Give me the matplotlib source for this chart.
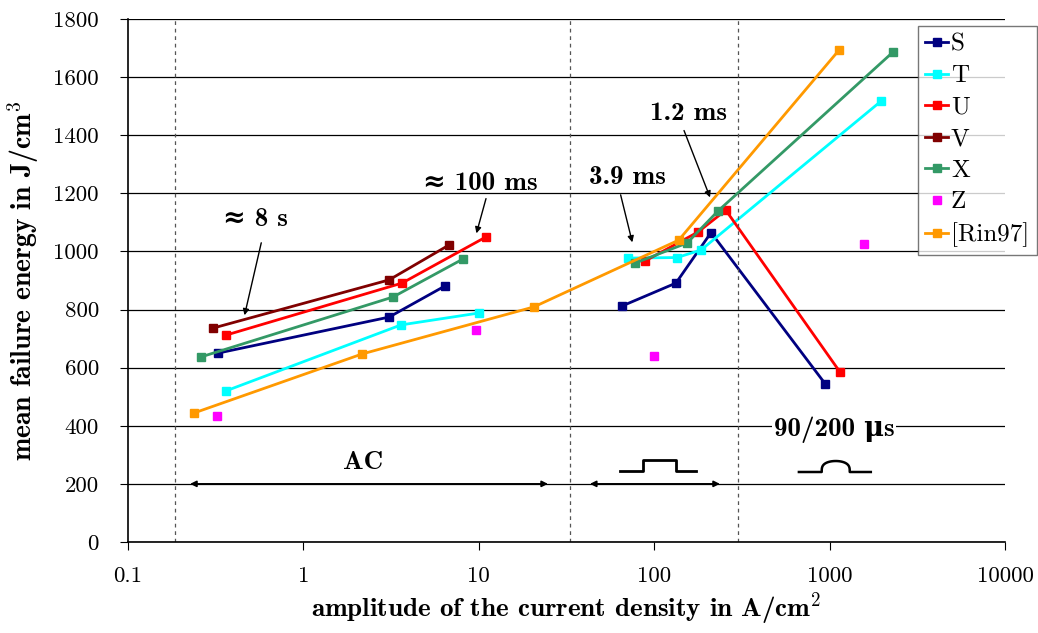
import numpy as np
import matplotlib
matplotlib.use("Agg")
import matplotlib.pyplot as plt

plt.rcParams['font.family'] = ['cmr10', 'DejaVu Serif']
plt.rcParams['mathtext.fontset'] = 'cm'
plt.rcParams['axes.unicode_minus'] = False

# AC tests (left group) and pulse tests (right group) per sample
S_ac_x = [0.326, 3.08, 6.41]
S_ac_y = [650, 774, 881]
S_p_x = [65.5, 133, 211, 942]
S_p_y = [812, 891, 1065, 545]

T_ac_x = [0.362, 3.6, 10.0]
T_ac_y = [520, 747, 788]
T_p_x = [71, 135, 185, 1963]
T_p_y = [977, 979, 1005, 1517]

U_ac_x = [0.362, 3.65, 11.0]
U_ac_y = [712, 891, 1050]
U_p_x = [88.7, 178, 256, 1146]
U_p_y = [967, 1067, 1142, 585]

V_ac_x = [0.305, 3.08, 6.76]
V_ac_y = [736, 902, 1022]

X_ac_x = [0.261, 3.24, 8.13]
X_ac_y = [637, 843, 974]
X_p_x = [77.8, 154, 231, 2297]
X_p_y = [960, 1029, 1139, 1686]

Z_x = [0.321, 9.64, 99.8, 1571]
Z_y = [434, 730, 640, 1025]

Rin_x = [0.238, 2.16, 20.6, 138, 1132]
Rin_y = [444, 647, 809, 1039, 1693]

regime_bounds = [0.185, 33.1, 301]

fig = plt.figure(figsize=(10.38, 6.33), dpi=100)
ax = fig.add_axes([0.1233, 0.1438, 0.8449, 0.8262])

kw = dict(lw=2, marker='s', ms=6)
ax.plot(S_ac_x, S_ac_y, color='#000080', label='S', **kw)
ax.plot(S_p_x, S_p_y, color='#000080', **kw)
ax.plot(T_ac_x, T_ac_y, color='#00FFFF', label='T', **kw)
ax.plot(T_p_x, T_p_y, color='#00FFFF', **kw)
ax.plot(U_ac_x, U_ac_y, color='#FF0000', label='U', **kw)
ax.plot(U_p_x, U_p_y, color='#FF0000', **kw)
ax.plot(V_ac_x, V_ac_y, color='#800000', label='V', **kw)
ax.plot(X_ac_x, X_ac_y, color='#339966', label='X', **kw)
ax.plot(X_p_x, X_p_y, color='#339966', **kw)
ax.plot(Z_x, Z_y, color='#FF00FF', lw=2, marker='s', ms=6, ls='none', label='Z')
ax.plot(Rin_x, Rin_y, color='#FF9900', label='[Rin97]', **kw)

for b in regime_bounds:
    ax.axvline(b, color='#555555', ls=(0, (3, 3)), lw=0.9)

ax.set_xscale('log')
ax.set_xlim(0.1, 10000)
ax.set_ylim(0, 1800)
ax.set_yticks(np.arange(0, 1801, 200))
ax.set_xticks([0.1, 1, 10, 100, 1000, 10000], ['0.1', '1', '10', '100', '1000', '10000'])
ax.minorticks_off()
ax.yaxis.grid(True, color='black', lw=0.9)
ax.set_axisbelow(True)
ax.spines['top'].set_visible(False)
ax.spines['right'].set_visible(False)
ax.spines['left'].set_linewidth(1.2)
ax.spines['bottom'].set_linewidth(1.2)
ax.tick_params(labelsize=16.5, length=6, direction='out')
ax.tick_params(axis='y', pad=15)
ax.tick_params(axis='x', pad=12)

bold = dict(family=['cmb10', 'DejaVu Serif'], fontweight='bold')
ax.set_xlabel('amplitude of the current density in A/cm$^{\\mathbf{2}}$', fontsize=19.5, labelpad=3, **bold)
ax.set_ylabel('mean failure energy in J/cm$^{\\mathbf{3}}$', fontsize=20, labelpad=9, **bold)

# annotations
fs = 19.5
arr = dict(arrowstyle='-|>', color='black', lw=1, mutation_scale=9)
ax.text(0.53, 1111, '≈ 8 s', fontsize=fs, ha='center', va='center', **bold)
ax.annotate('', xy=(0.458, 771), xytext=(0.58, 1039), arrowprops=arr)
ax.text(10.2, 1235, '≈ 100 ms', fontsize=fs, ha='center', va='center', **bold)
ax.annotate('', xy=(9.6, 1053), xytext=(11.1, 1191), arrowprops=arr)
ax.text(70, 1253, '3.9 ms', fontsize=fs, ha='center', va='center', **bold)
ax.annotate('', xy=(75.7, 1022), xytext=(63.8, 1204), arrowprops=arr)
ax.text(156, 1476, '1.2 ms', fontsize=fs, ha='center', va='center', **bold)
ax.annotate('', xy=(211, 1177), xytext=(146, 1425), arrowprops=arr)
ax.text(1059, 385, '90/200 \u03bcs', fontsize=fs, ha='center', va='center',
        bbox=dict(facecolor='white', edgecolor='none', pad=1), **bold)
ax.text(2.19, 272, 'AC', fontsize=fs, ha='center', va='center', **bold)

darr = dict(arrowstyle='<|-|>', color='black', lw=1.2, mutation_scale=9, shrinkA=0, shrinkB=0)
ax.annotate('', xy=(0.226, 200), xytext=(24.8, 200), arrowprops=darr)
ax.annotate('', xy=(43, 200), xytext=(237, 200), arrowprops=darr)

# pulse shape icons (axes fraction)
tr = ax.transAxes
ax.plot([0.561, 0.587, 0.587, 0.625, 0.625, 0.648],
        [0.1358, 0.1358, 0.1568, 0.1568, 0.1358, 0.1358], color='black', lw=2, transform=tr)
t = np.linspace(0, np.pi, 30)
bx = 0.807 - 0.016 * np.cos(t)
by = 0.1338 + 0.021 * np.sin(t) ** 0.6
ax.plot(np.concatenate([[0.765], bx, [0.847]]), np.concatenate([[0.1338], by, [0.1338]]),
        color='black', lw=1.8, transform=tr)

leg = ax.legend(loc='upper left', bbox_to_anchor=(0.9008, 0.9866), fontsize=18, frameon=True,
                fancybox=False, edgecolor='#555555', handlelength=0.9, handletextpad=0.12,
                borderpad=0.3, labelspacing=0.36, borderaxespad=0)
leg.get_frame().set_linewidth(1)

fig.savefig('out.png', dpi=100)
